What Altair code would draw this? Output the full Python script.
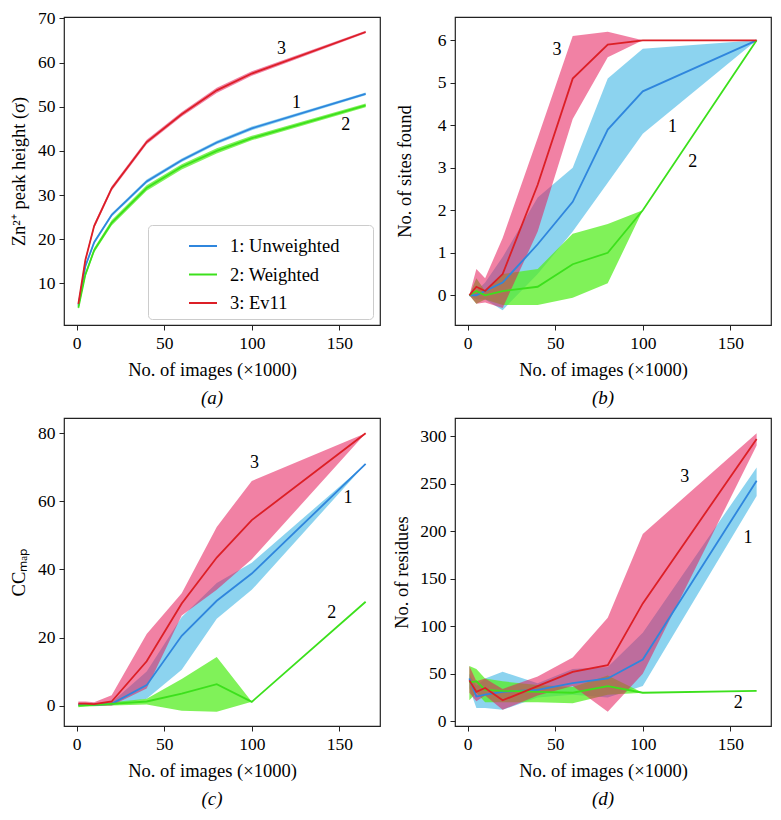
import altair as alt
import pandas as pd

x_images = [1, 5, 10, 20, 40, 60, 80, 100, 165]
series_names = ["1: Unweighted", "2: Weighted", "3: Ev11"]
line_colors = ["#2f86dd", "#3ce01c", "#dc1f26"]
band_colors = ["#5bc0e8", "#55ee22", "#e6195a"]
band_opacity = [0.7, 0.75, 0.55]
curve_labels = ["1", "2", "3"]

# (a) Zn2+ peak height
a_unw_mean = [5.0, 13.9, 19.3, 25.5, 33.1, 37.9, 41.9, 45.1, 52.9]
a_unw_lo = [4.7, 13.5, 18.9, 25.1, 32.7, 37.5, 41.5, 44.7, 52.6]
a_unw_hi = [5.3, 14.3, 19.7, 25.9, 33.5, 38.3, 42.3, 45.5, 53.2]
a_wtd_mean = [4.5, 12.0, 17.5, 23.7, 31.6, 36.4, 40.0, 42.9, 50.3]
a_wtd_lo = [4.1, 11.5, 17.0, 23.1, 31.0, 35.8, 39.4, 42.4, 49.9]
a_wtd_hi = [4.9, 12.5, 18.0, 24.3, 32.2, 37.0, 40.6, 43.4, 50.7]
a_ev11_mean = [5.4, 15.3, 23.0, 31.5, 42.0, 48.3, 53.7, 57.5, 66.9]
a_ev11_lo = [5.0, 14.8, 22.5, 31.0, 41.5, 47.8, 53.1, 57.0, 66.6]
a_ev11_hi = [5.8, 15.8, 23.5, 32.0, 42.5, 48.8, 54.3, 58.0, 67.2]

# (b) No. of sites found
b_unw_mean = [0, 0, 0.1, 0.3, 1.2, 2.2, 3.9, 4.8, 6]
b_unw_lo = [0, -0.1, -0.1, -0.35, 0.5, 1.5, 2.65, 3.8, 6]
b_unw_hi = [0, 0.1, 0.3, 0.9, 2.3, 3.0, 5.1, 5.8, 6]
b_wtd_mean = [0, 0.1, 0, 0.1, 0.2, 0.73, 1.0, 2.0, 6]
b_wtd_lo = [0, -0.2, -0.1, -0.23, -0.23, -0.06, 0.28, 2.0, 6]
b_wtd_hi = [0, 0.4, 0.1, 0.5, 0.62, 1.45, 1.68, 2.0, 6]
b_ev11_mean = [0, 0.2, 0.1, 0.5, 2.6, 5.1, 5.9, 6, 6]
b_ev11_lo = [0, -0.2, -0.17, -0.3, 1.5, 4.15, 5.6, 6, 6]
b_ev11_hi = [0, 0.62, 0.4, 1.35, 3.7, 6.1, 6.2, 6, 6]

# (c) CCmap
c_unw_mean = [0.3, 0.3, 0.2, 0.5, 6.0, 20.5, 30.8, 38.8, 71]
c_unw_lo = [0, 0, 0, 0, 2, 10.5, 25.5, 34, 71]
c_unw_hi = [0.6, 0.6, 0.5, 1.0, 10, 26, 36, 42, 71]
c_wtd_mean = [0, 0.1, 0.2, 0.5, 1.2, 3.5, 6.3, 1.1, 30.5]
c_wtd_lo = [-0.5, -0.3, -0.2, 0, 0.3, -1.5, -1.8, 1.1, 30.5]
c_wtd_hi = [0.5, 0.5, 0.6, 1.0, 2.0, 7.8, 14.3, 1.1, 30.5]
c_ev11_mean = [0.6, 0.6, 0.4, 1.2, 13, 30, 43.5, 54.5, 80]
c_ev11_lo = [0, 0, 0, 0, 5, 26.5, 34, 43, 80]
c_ev11_hi = [1.2, 1.2, 1.0, 3.0, 21, 33, 52.5, 66, 80]

# (d) No. of residues
d_unw_mean = [45, 26, 28, 31, 33, 40, 45, 65, 253]
d_unw_lo = [35, 14, 14, 12, 25, 28, 25, 37, 237]
d_unw_hi = [50, 37, 45, 52, 40, 55, 57, 93, 267]
d_wtd_mean = [41, 42, 33, 32, 31, 30, 37, 30, 32]
d_wtd_lo = [22, 30, 20, 20, 20, 19, 28, 30, 32]
d_wtd_hi = [58, 55, 45, 42, 38, 36, 48, 30, 32]
d_ev11_mean = [43, 31, 35, 22, 37, 52, 59, 124, 297]
d_ev11_lo = [30, 21, 27, 12, 27, 37, 10, 50, 290]
d_ev11_hi = [58, 42, 45, 34, 47, 67, 109, 197, 303]

# curve label positions (1, 2, 3)
a_lab_x = [125.5, 153.6, 117]
a_lab_y = [50.8, 45.8, 63]
b_lab_x = [117, 128.5, 51]
b_lab_y = [3.95, 3.14, 5.77]
c_lab_x = [155, 145.6, 101.5]
c_lab_y = [61, 27.1, 71.2]
d_lab_x = [160, 154.5, 124]
d_lab_y = [192.7, 19.3, 256.6]

FONT = "Liberation Serif"
X_DOMAIN = [-7.2, 173.2]
X_TICKS = [0, 50, 100, 150]
W, H = 316, 308


def make_df(means, los, his):
    rows = []
    for name, m, lo, hi in zip(series_names, means, los, his):
        for xv, mv, lv, hv in zip(x_images, m, lo, hi):
            rows.append({"x": xv, "series": name, "mean": mv, "lo": lv, "hi": hv})
    return pd.DataFrame(rows)


def panel(means, los, his, lab_x, lab_y, ydomain, yticks, ytitle, caption,
          title_pad, legend=False):
    df = make_df(means, los, his)
    xscale = alt.Scale(domain=X_DOMAIN, nice=False, zero=False)
    xenc = alt.X("x:Q", scale=xscale,
                 axis=alt.Axis(values=X_TICKS, title="No. of images (×1000)",
                               titleX=W / 2 - 10))
    yscale = alt.Scale(domain=ydomain, nice=False, zero=False)
    yaxis = alt.Axis(values=yticks, title=ytitle, titlePadding=title_pad)
    base = alt.Chart(df)
    bands = []
    for name, col, op in zip(series_names, band_colors, band_opacity):
        bands.append(
            base.transform_filter(alt.datum.series == name).mark_area(
                color=col, opacity=op
            ).encode(
                x=xenc,
                y=alt.Y("lo:Q", scale=yscale, axis=yaxis),
                y2="hi:Q",
            )
        )
    if legend:
        leg = alt.Legend(title="\u2003", titleOrient="right", titleFontSize=1,
                         titleColor="white", titlePadding=28,
                         orient="none", legendX=W - 4 - 228, legendY=H - 7 - 93,
                         symbolType="stroke", symbolSize=784, symbolStrokeWidth=2,
                         labelFont=FONT, labelFontSize=18.5, labelColor="black",
                         padding=6, symbolOffset=34, labelOffset=12, rowPadding=3.5,
                         fillColor="white", strokeColor="#cccccc", cornerRadius=4)
    else:
        leg = None
    line = base.mark_line(strokeWidth=1.8).encode(
        x=xenc,
        y=alt.Y("mean:Q", scale=yscale),
        color=alt.Color("series:N", scale=alt.Scale(domain=series_names, range=line_colors), legend=leg),
    )
    lab_df = pd.DataFrame({"x": lab_x, "y": lab_y, "t": curve_labels})
    labels = alt.Chart(lab_df).mark_text(font=FONT, fontSize=18, color="black").encode(
        x=alt.X("x:Q", scale=xscale),
        y=alt.Y("y:Q", scale=yscale),
        text="t:N",
    )
    return alt.layer(*bands, line, labels).properties(
        width=W, height=H,
        title=alt.TitleParams(text=caption, orient="bottom", frame="group", anchor="middle",
                              dx=-10, offset=10, font=FONT, fontSize=19, fontStyle="italic",
                              fontWeight="normal", color="black"),
    )


pa = panel([a_unw_mean, a_wtd_mean, a_ev11_mean], [a_unw_lo, a_wtd_lo, a_ev11_lo],
           [a_unw_hi, a_wtd_hi, a_ev11_hi], a_lab_x, a_lab_y, [0.6, 70.3],
           [10, 20, 30, 40, 50, 60, 70], "Zn²⁺ peak height (σ)", "(a)", 9, legend=True)
pb = panel([b_unw_mean, b_wtd_mean, b_ev11_mean], [b_unw_lo, b_wtd_lo, b_ev11_lo],
           [b_unw_hi, b_wtd_hi, b_ev11_hi], b_lab_x, b_lab_y, [-0.7, 6.55],
           [0, 1, 2, 3, 4, 5, 6], "No. of sites found", "(b)", 23)
pc = panel([c_unw_mean, c_wtd_mean, c_ev11_mean], [c_unw_lo, c_wtd_lo, c_ev11_lo],
           [c_unw_hi, c_wtd_hi, c_ev11_hi], c_lab_x, c_lab_y, [-6, 84.5],
           [0, 20, 40, 60, 80], "CCₘₐₚ", "(c)", 9)
pd_ = panel([d_unw_mean, d_wtd_mean, d_ev11_mean], [d_unw_lo, d_wtd_lo, d_ev11_lo],
            [d_unw_hi, d_wtd_hi, d_ev11_hi], d_lab_x, d_lab_y, [-5, 319],
            [0, 50, 100, 150, 200, 250, 300], "No. of residues", "(d)", 8)

chart = alt.concat(pa, pb, pc, pd_, columns=2, spacing={"row": 8, "column": 11}).resolve_scale(
    x="independent", y="independent", color="independent",
).properties(padding=0).configure_view(
    stroke="#222222", strokeWidth=1.2
).configure_axis(
    grid=False, domain=False, ticks=True, tickColor="#222222", tickSize=5, tickWidth=1,
    labelFont=FONT, labelFontSize=17.5, labelColor="black",
    titleFont=FONT, titleFontSize=18.5, titleFontWeight="normal", titleColor="black",
).configure_axisX(
    labelPadding=4, titlePadding=9,
).configure_axisY(
    labelPadding=4,
)

chart.save("out.html", embed_options={"renderer": "svg", "actions": False})
